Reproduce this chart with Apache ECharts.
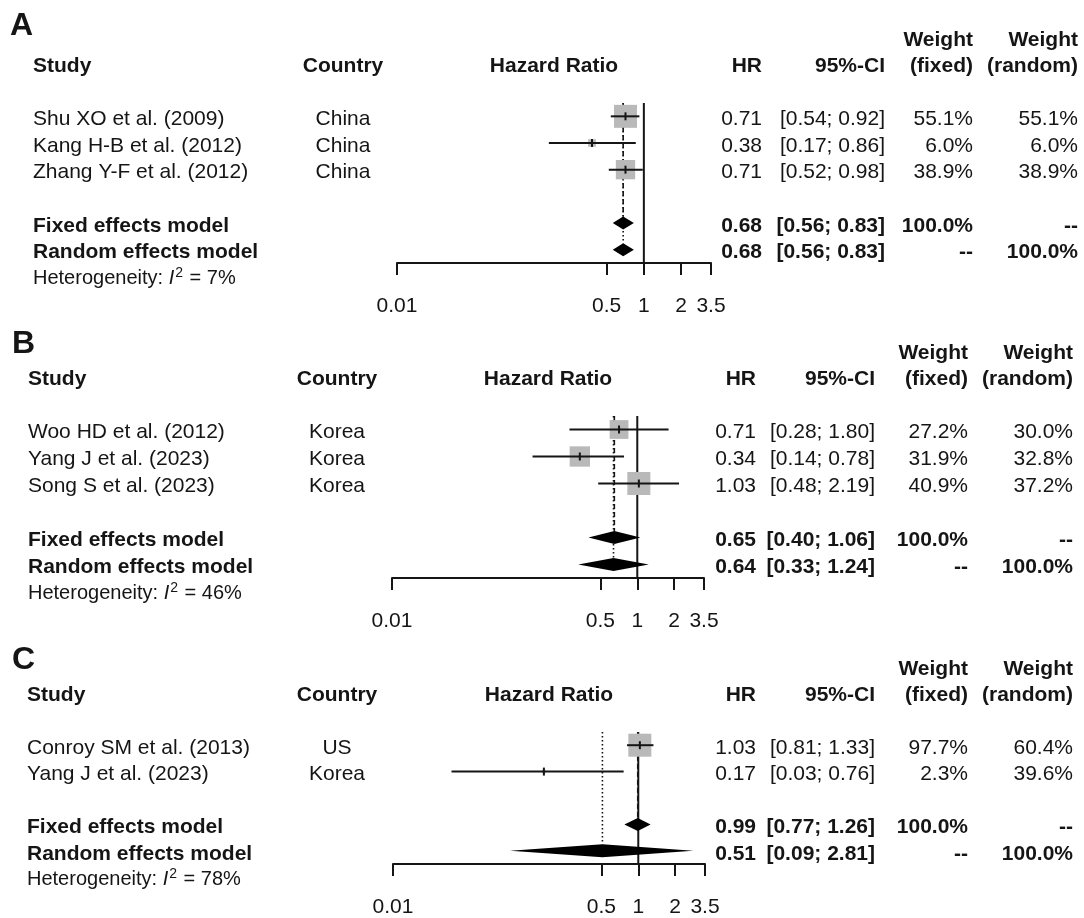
<!DOCTYPE html>
<html><head><meta charset="utf-8">
<script src="https://cdn.jsdelivr.net/npm/echarts@6/dist/echarts.min.js"></script>
<style>html,body{margin:0;padding:0;background:#fff}#c{width:1084px;height:918px}</style>
</head><body><div id="c"></div>
<script>
// ---------- Data ----------
// Panel A
const studiesA   = ['Shu XO et al. (2009)', 'Kang H-B et al. (2012)', 'Zhang Y-F et al. (2012)'];
const countriesA = ['China', 'China', 'China'];
const hrA        = [0.71, 0.38, 0.71];
const lowerA     = [0.54, 0.17, 0.52];
const upperA     = [0.92, 0.86, 0.98];
const wFixedA    = [55.1, 6.0, 38.9];
const wRandomA   = [55.1, 6.0, 38.9];
const fixedA     = [0.68, 0.56, 0.83];
const randomA    = [0.68, 0.56, 0.83];
const i2A        = 7;
// Panel B
const studiesB   = ['Woo HD et al. (2012)', 'Yang J et al. (2023)', 'Song S et al. (2023)'];
const countriesB = ['Korea', 'Korea', 'Korea'];
const hrB        = [0.71, 0.34, 1.03];
const lowerB     = [0.28, 0.14, 0.48];
const upperB     = [1.80, 0.78, 2.19];
const wFixedB    = [27.2, 31.9, 40.9];
const wRandomB   = [30.0, 32.8, 37.2];
const fixedB     = [0.65, 0.40, 1.06];
const randomB    = [0.64, 0.33, 1.24];
const i2B        = 46;
// Panel C
const studiesC   = ['Conroy SM et al. (2013)', 'Yang J et al. (2023)'];
const countriesC = ['US', 'Korea'];
const hrC        = [1.03, 0.17];
const lowerC     = [0.81, 0.03];
const upperC     = [1.33, 0.76];
const wFixedC    = [97.7, 2.3];
const wRandomC   = [60.4, 39.6];
const fixedC     = [0.99, 0.77, 1.26];
const randomC    = [0.51, 0.09, 2.81];
const i2C        = 78;

const tickValues  = [0.01, 0.5, 1, 2, 3.5];
const panelLetters = ['A', 'B', 'C'];
const headerStudy = 'Study', headerCountry = 'Country', headerPlot = 'Hazard Ratio';
const headerHR = 'HR', headerCI = '95%-CI', headerWeight = 'Weight', headerFixed = '(fixed)', headerRandom = '(random)';
const labelFixed = 'Fixed effects model', labelRandom = 'Random effects model';

// ---------- Layout ----------
const FONT = '"Liberation Sans", Arial, Helvetica, sans-serif';
const TXT = '#151515';
const GRAY = '#b9b9b9';
const BOX_MAX = 23, DIAM_H = 13;
const layouts = [
  {left: 397, right: 711, top: 103, bottom: 263, letterX: 10, letterDy: -90, studyX: 33, countryX: 343, hrX: 762, ciX: 885, wfX: 973, wrX: 1078},
  {left: 392, right: 704, top: 416, bottom: 578, letterX: 12, letterDy: -85, studyX: 28, countryX: 337, hrX: 756, ciX: 875, wfX: 968, wrX: 1073},
  {left: 393, right: 705, top: 732, bottom: 864, letterX: 12, letterDy: -85, studyX: 27, countryX: 337, hrX: 756, ciX: 875, wfX: 968, wrX: 1073}
];
const panels = [
  {studies: studiesA, countries: countriesA, hr: hrA, lo: lowerA, up: upperA, wf: wFixedA, wr: wRandomA, fixed: fixedA, random: randomA, i2: i2A},
  {studies: studiesB, countries: countriesB, hr: hrB, lo: lowerB, up: upperB, wf: wFixedB, wr: wRandomB, fixed: fixedB, random: randomB, i2: i2B},
  {studies: studiesC, countries: countriesC, hr: hrC, lo: lowerC, up: upperC, wf: wFixedC, wr: wRandomC, fixed: fixedC, random: randomC, i2: i2C}
];

const chart = echarts.init(document.getElementById('c'), null, {renderer: 'canvas'});

const grids = [], xAxes = [], yAxes = [], series = [];
panels.forEach((p, i) => {
  const L = layouts[i];
  const n = p.studies.length;
  const rowFixed = n + 1, rowRandom = n + 2, yMax = n + 2.5;
  grids.push({left: L.left, width: L.right - L.left, top: L.top, height: L.bottom - L.top, outerBoundsMode: 'none', containLabel: false});
  xAxes.push({
    type: 'log', logBase: 10, min: 0.01, max: 3.5, gridIndex: i, position: 'bottom',
    splitLine: {show: false},
    axisLine: {show: true, onZero: false, lineStyle: {color: TXT, width: 2}},
    axisTick: {show: true, inside: false, length: 12, customValues: tickValues, lineStyle: {color: TXT, width: 2}},
    axisLabel: {show: true, customValues: tickValues, margin: 33, fontSize: 21, fontFamily: FONT, color: TXT,
      formatter: v => String(parseFloat(Number(v).toPrecision(6)))},
    minorTick: {show: false}
  });
  yAxes.push({type: 'value', gridIndex: i, min: -0.5, max: yMax, inverse: true, show: false});

  const wmax = Math.max(...p.wf);
  // reference line at HR = 1
  series.push({
    type: 'custom', name: 'ref' + i, xAxisIndex: i, yAxisIndex: i, z: 1, silent: true,
    data: [[1, -0.5, yMax]],
    renderItem: (params, api) => {
      const a = api.coord([api.value(0), api.value(1)]), b = api.coord([api.value(0), api.value(2)]);
      return {type: 'line', shape: {x1: a[0], y1: a[1], x2: b[0], y2: b[1]}, style: {stroke: TXT, lineWidth: 2}};
    }
  });
  // fixed (dashed) and random (dotted) effect lines
  series.push({
    type: 'custom', name: 'pooledLines' + i, xAxisIndex: i, yAxisIndex: i, z: 2, silent: true,
    data: [[p.fixed[0], rowFixed, 0], [p.random[0], rowRandom, 1]],
    renderItem: (params, api) => {
      const x = api.value(0);
      const a = api.coord([x, -0.5]), b = api.coord([x, api.value(1)]);
      const dotted = api.value(2) === 1;
      return {type: 'line', shape: {x1: a[0], y1: a[1], x2: b[0], y2: b[1] - DIAM_H / 2},
        style: {stroke: TXT, lineWidth: 1.6, lineDash: dotted ? [1.6, 2.4] : [5, 3]}};
    }
  });
  // studies
  series.push({
    type: 'custom', name: 'studies' + i, xAxisIndex: i, yAxisIndex: i, z: 3, silent: true,
    data: p.hr.map((v, k) => [v, p.lo[k], p.up[k], p.wf[k], k, wmax]),
    renderItem: (params, api) => {
      const row = api.value(4);
      const c = api.coord([api.value(0), row]), l = api.coord([api.value(1), row]), u = api.coord([api.value(2), row]);
      const s = BOX_MAX * Math.sqrt(api.value(3) / api.value(5));
      return {type: 'group', children: [
        {type: 'rect', shape: {x: c[0] - s / 2, y: c[1] - s / 2, width: s, height: s}, style: {fill: GRAY}},
        {type: 'line', shape: {x1: l[0], y1: l[1], x2: u[0], y2: u[1]}, style: {stroke: TXT, lineWidth: 2}},
        {type: 'line', shape: {x1: c[0], y1: c[1] - 4, x2: c[0], y2: c[1] + 4}, style: {stroke: TXT, lineWidth: 2}}
      ]};
    }
  });
  // pooled diamonds
  series.push({
    type: 'custom', name: 'diamonds' + i, xAxisIndex: i, yAxisIndex: i, z: 4, silent: true,
    data: [[p.fixed[0], p.fixed[1], p.fixed[2], rowFixed], [p.random[0], p.random[1], p.random[2], rowRandom]],
    renderItem: (params, api) => {
      const row = api.value(3);
      const c = api.coord([api.value(0), row]), l = api.coord([api.value(1), row]), u = api.coord([api.value(2), row]);
      return {type: 'polygon', shape: {points: [[l[0], c[1]], [c[0], c[1] - DIAM_H / 2], [u[0], c[1]], [c[0], c[1] + DIAM_H / 2]]},
        style: {fill: '#000'}};
    }
  });
});

chart.setOption({
  animation: false,
  backgroundColor: '#fff',
  grid: grids, xAxis: xAxes, yAxis: yAxes, series: series
});

// ---------- Table text ----------
function txt(x, y, text, align, opts) {
  opts = opts || {};
  return {type: 'text', x: x, y: y, silent: true, z: 10,
    style: Object.assign({text: text, fill: TXT, fontSize: 21, fontFamily: FONT, fontWeight: 'normal',
      align: align, textAlign: align, verticalAlign: 'middle', textVerticalAlign: 'middle'}, opts)};
}
const pct = v => v.toFixed(1) + '%';
const ci = (a, b) => '[' + a.toFixed(2) + '; ' + b.toFixed(2) + ']';
const graphics = [];
panels.forEach((p, i) => {
  const L = layouts[i];
  const rowY = r => chart.convertToPixel({xAxisIndex: i, yAxisIndex: i}, [1, r])[1];
  const n = p.studies.length;
  const y0 = rowY(0);
  const plotCenter = (L.left + L.right) / 2;
  const B = {fontWeight: 'bold'};
  graphics.push(txt(L.letterX, y0 + L.letterDy, panelLetters[i], 'left', {fontWeight: 'bold', fontSize: 32}));
  const hy = y0 - 50, wy = y0 - 76;
  graphics.push(txt(L.studyX, hy, headerStudy, 'left', B));
  graphics.push(txt(L.countryX, hy, headerCountry, 'center', B));
  graphics.push(txt(plotCenter, hy, headerPlot, 'center', B));
  graphics.push(txt(L.hrX, hy, headerHR, 'right', B));
  graphics.push(txt(L.ciX, hy, headerCI, 'right', B));
  graphics.push(txt(L.wfX, wy, headerWeight, 'right', B));
  graphics.push(txt(L.wfX, hy, headerFixed, 'right', B));
  graphics.push(txt(L.wrX, wy, headerWeight, 'right', B));
  graphics.push(txt(L.wrX, hy, headerRandom, 'right', B));
  p.studies.forEach((s, k) => {
    const y = rowY(k) + 3;
    graphics.push(txt(L.studyX, y, s, 'left'));
    graphics.push(txt(L.countryX, y, p.countries[k], 'center'));
    graphics.push(txt(L.hrX, y, p.hr[k].toFixed(2), 'right'));
    graphics.push(txt(L.ciX, y, ci(p.lo[k], p.up[k]), 'right'));
    graphics.push(txt(L.wfX, y, pct(p.wf[k]), 'right'));
    graphics.push(txt(L.wrX, y, pct(p.wr[k]), 'right'));
  });
  const yf = rowY(n + 1) + 3, yr = rowY(n + 2) + 3;
  graphics.push(txt(L.studyX, yf, labelFixed, 'left', B));
  graphics.push(txt(L.hrX, yf, p.fixed[0].toFixed(2), 'right', B));
  graphics.push(txt(L.ciX, yf, ci(p.fixed[1], p.fixed[2]), 'right', B));
  graphics.push(txt(L.wfX, yf, '100.0%', 'right', B));
  graphics.push(txt(L.wrX, yf, '--', 'right', B));
  graphics.push(txt(L.studyX, yr, labelRandom, 'left', B));
  graphics.push(txt(L.hrX, yr, p.random[0].toFixed(2), 'right', B));
  graphics.push(txt(L.ciX, yr, ci(p.random[1], p.random[2]), 'right', B));
  graphics.push(txt(L.wfX, yr, '--', 'right', B));
  graphics.push(txt(L.wrX, yr, '100.0%', 'right', B));
  const yh = rowY(n + 3) + 2;
  graphics.push(txt(L.studyX, yh, 'Heterogeneity: {it|I}{sup|2} = ' + p.i2 + '%', 'left', {
    fontSize: 20,
    rich: {it: {fontStyle: 'italic', fontSize: 20, fontFamily: FONT, fill: TXT, color: TXT},
           sup: {fontSize: 14, fontFamily: FONT, padding: [0, 1, 11, 1], fill: TXT, color: TXT}}
  }));
});
chart.setOption({graphic: {elements: graphics}});
</script>
</body></html>
